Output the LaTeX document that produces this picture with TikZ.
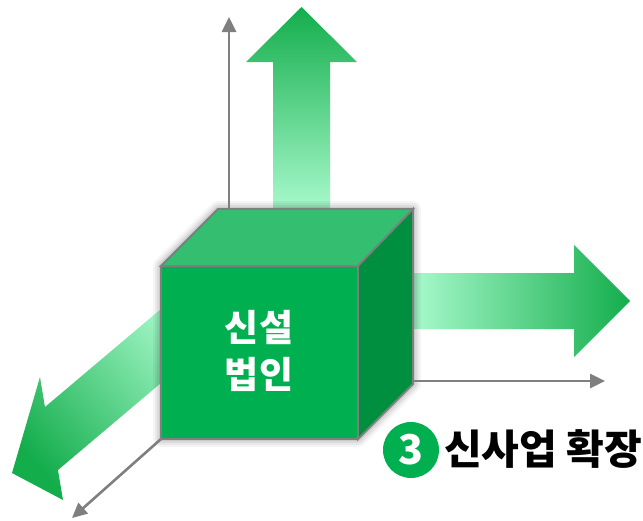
\documentclass[tikz,border=0pt]{standalone}
\usepackage{fontspec}
\newfontfamily\kr{Noto Sans CJK KR}
\usetikzlibrary{arrows.meta}

\definecolor{mint}{HTML}{AAFBCE}
\definecolor{deepgreen}{HTML}{14AD4C}
\definecolor{cubefront}{HTML}{00B050}
\definecolor{cubetop}{HTML}{33BE70}
\definecolor{cuberight}{HTML}{008F3E}
\definecolor{edgegray}{HTML}{7F7F7F}

\tikzset{
  axisline/.style={draw=edgegray, line width=2.6pt,
    -{Triangle[length=15pt,width=14pt]}},
  cubeface/.style={draw=edgegray, line width=1.8pt, line join=miter},
  cubetext/.style={text=white, align=center,
    font=\kr\bfseries\fontsize{37}{47}\selectfont},
  badge/.style={circle, fill=cubefront, minimum size=56pt, inner sep=0pt,
    text=white, font=\kr\bfseries\fontsize{41}{41}\selectfont},
  titletext/.style={anchor=west, inner sep=0pt, text=black,
    font=\kr\bfseries\fontsize{41}{41}\selectfont},
}

\begin{document}
\begin{tikzpicture}[x=1pt, y=-1pt]
\useasboundingbox (0,0) rectangle (643,520);

% cube corners
\coordinate (fTL) at (161,266);
\coordinate (fTR) at (358,266);
\coordinate (fBR) at (358,439);
\coordinate (fBL) at (161,439);
\coordinate (bTL) at (218,209);
\coordinate (bTR) at (413,209);
\coordinate (bBR) at (413,384);

% axis end points
\coordinate (yStart) at (229,209);
\coordinate (yEnd)   at (229,17);
\coordinate (xStart) at (413,381);
\coordinate (xEnd)   at (605,381);
\coordinate (zEnd)   at (72,518);

% wide arrow towards the lower left
\shade[top color=mint, bottom color=deepgreen, shading angle=-50]
  (200,276) -- (45,407) -- (40,377) -- (12,473) -- (63,500) -- (58,470)
  -- (200,350) -- cycle;

% wide arrow upwards
\shade[top color=deepgreen, bottom color=mint]
  (273,214) -- (273,62) -- (246,62) -- (301.5,7) -- (357,62) -- (330,62)
  -- (330,214) -- cycle;

% wide arrow to the right
\shade[left color=mint, right color=deepgreen]
  (408,273) -- (574,273) -- (574,245) -- (630,301) -- (574,357) -- (574,329)
  -- (408,329) -- cycle;

% soft shadow of the cube
\begin{scope}[shift={(4,4)}, line join=round]
  \foreach \w/\o in {16/0.04, 12/0.05, 8/0.06, 4/0.08}
    \draw[black, opacity=\o, line width=\w pt, fill=black, fill opacity=0.02]
      (fTL) -- (bTL) -- (bTR) -- (bBR) -- (fBR) -- (fBL) -- cycle;
\end{scope}

% axes
\draw[axisline] (yStart) -- (yEnd);
\draw[axisline] (xStart) -- (xEnd);
\draw[axisline] (fBL) -- (zEnd);

% cube
\draw[cubeface, fill=cubetop]   (fTL) -- (bTL) -- (bTR) -- (fTR) -- cycle;
\draw[cubeface, fill=cuberight] (fTR) -- (bTR) -- (bBR) -- (fBR) -- cycle;
\draw[cubeface, fill=cubefront] (fTL) -- (fTR) -- (fBR) -- (fBL) -- cycle;

\node[cubetext] (cubelabel) at (259,351) {신설\\법인};

% numbered caption
\node[badge] (num) at (411,450) {3};
\node[titletext] (title) at (444,449) {신사업 확장};
\end{tikzpicture}
\end{document}
